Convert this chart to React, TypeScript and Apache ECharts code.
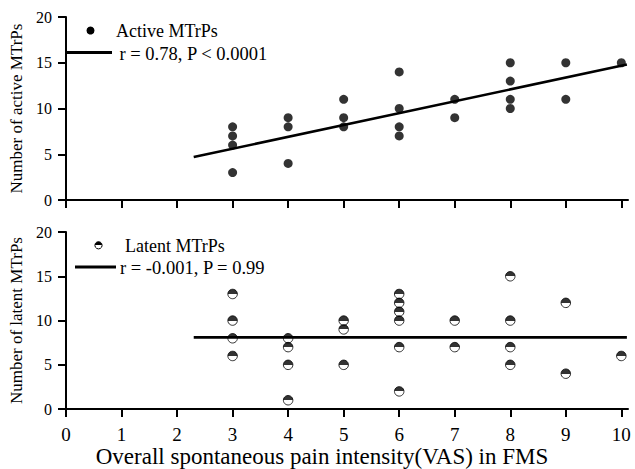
import React, { useEffect, useRef } from "react";
import * as echarts from "echarts";

const xTicks = [0, 1, 2, 3, 4, 5, 6, 7, 8, 9, 10];
const activeX = [3, 3, 3, 3, 4, 4, 4, 5, 5, 5, 6, 6, 6, 6, 7, 7, 8, 8, 8, 8, 9, 9, 10];
const activeY = [8, 7, 6, 3, 9, 8, 4, 11, 9, 8, 14, 10, 8, 7, 11, 9, 15, 13, 11, 10, 15, 11, 15];
const latentX = [3, 3, 3, 3, 4, 4, 4, 4, 5, 5, 5, 6, 6, 6, 6, 6, 6, 7, 7, 8, 8, 8, 8, 9, 9, 10];
const latentY = [13, 10, 8, 6, 8, 7, 5, 1, 10, 9, 5, 13, 12, 11, 10, 7, 2, 10, 7, 15, 10, 7, 5, 12, 4, 6];
const activeFitX = [2.3, 10.1];
const activeFitY = [4.7, 14.8];
const latentFitX = [2.3, 10.1];
const latentFitY = [8.1, 8.1];

const activeLabel = "Active MTrPs";
const activeStat = "r = 0.78, P < 0.0001";
const latentLabel = "Latent MTrPs";
const latentStat = "r = -0.001, P = 0.99";
const xTitle = "Overall spontaneous pain intensity(VAS) in FMS";
const yTitleTop = "Number of active MTrPs";
const yTitleBottom = "Number of latent MTrPs";

const FONT = "Liberation Serif";

const halfFill = {
  type: "linear",
  x: 0,
  y: 0,
  x2: 0,
  y2: 1,
  colorStops: [
    { offset: 0, color: "#000" },
    { offset: 0.5, color: "#000" },
    { offset: 0.5, color: "#fff" },
    { offset: 1, color: "#fff" },
  ],
};

const zip = (xs: number[], ys: number[]) => xs.map((x, i) => [x, ys[i]]);

export default function App() {
  const ref = useRef<HTMLDivElement>(null);
  useEffect(() => {
    if (!ref.current) return;
    const chart = echarts.init(ref.current, undefined, { renderer: "svg" });
    const xAxisBase = (gridIndex: number, showLabel: boolean) => ({
      type: "value",
      gridIndex,
      min: 0,
      max: 10.12,
      splitLine: { show: false },
      axisLine: { show: true, onZero: false, lineStyle: { color: "#000", width: 2 } },
      axisTick: { show: true, inside: false, length: 8, lineStyle: { color: "#000", width: 2 }, customValues: xTicks },
      axisLabel: {
        show: showLabel,
        customValues: xTicks,
        color: "#000",
        fontFamily: FONT,
        fontSize: 19,
        margin: 16,
      },
      name: showLabel ? xTitle : "",
      nameLocation: "middle",
      nameGap: 32,
      nameTextStyle: { color: "#000", fontFamily: FONT, fontSize: 23, padding: [0, 50, 0, 0] },
    });
    const yAxisBase = (gridIndex: number, title: string) => ({
      type: "value",
      gridIndex,
      min: 0,
      max: 20,
      interval: 5,
      splitLine: { show: false },
      axisLine: { show: true, onZero: false, lineStyle: { color: "#000", width: 2 } },
      axisTick: { show: true, inside: false, length: 8, lineStyle: { color: "#000", width: 2 } },
      axisLabel: { color: "#000", fontFamily: FONT, fontSize: 16, margin: 14 },
      name: title,
      nameLocation: "middle",
      nameGap: 36,
      nameTextStyle: { color: "#000", fontFamily: FONT, fontSize: 17 },
    });
    chart.setOption({
      animation: false,
      backgroundColor: "#fff",
      grid: [
        { left: 66, right: 7, top: 17, height: 183 },
        { left: 66, right: 7, top: 232, height: 183 },
      ],
      xAxis: [xAxisBase(0, false), xAxisBase(1, true)],
      yAxis: [yAxisBase(0, yTitleTop), yAxisBase(1, yTitleBottom)],
      series: [
        {
          type: "scatter",
          name: activeLabel,
          xAxisIndex: 0,
          yAxisIndex: 0,
          data: zip(activeX, activeY),
          symbol: "circle",
          symbolSize: 9,
          itemStyle: { color: "#000" },
        },
        {
          type: "line",
          name: activeStat,
          xAxisIndex: 0,
          yAxisIndex: 0,
          data: zip(activeFitX, activeFitY),
          symbol: "none",
          clip: false,
          lineStyle: { color: "#000", width: 2.6 },
        },
        {
          type: "line",
          name: latentStat,
          xAxisIndex: 1,
          yAxisIndex: 1,
          data: zip(latentFitX, latentFitY),
          symbol: "none",
          clip: false,
          lineStyle: { color: "#000", width: 2.6 },
        },
        {
          type: "scatter",
          name: latentLabel,
          xAxisIndex: 1,
          yAxisIndex: 1,
          data: zip(latentX, latentY),
          symbol: "circle",
          symbolSize: 9.5,
          itemStyle: { color: halfFill, borderColor: "#000", borderWidth: 1 },
        },
      ],
      graphic: [
        { type: "circle", shape: { cx: 90.5, cy: 30.5, r: 4 }, style: { fill: "#000" } },
        {
          type: "text",
          x: 116,
          y: 30.5,
          style: { text: activeLabel, fontFamily: FONT, fontSize: 18, fill: "#000", verticalAlign: "middle" },
        },
        {
          type: "line",
          shape: { x1: 67, y1: 52.5, x2: 112, y2: 52.5 },
          style: { stroke: "#000", lineWidth: 3 },
        },
        {
          type: "text",
          x: 119.5,
          y: 54,
          style: { text: activeStat, fontFamily: FONT, fontSize: 18.5, fill: "#000", verticalAlign: "middle" },
        },
        {
          type: "circle",
          shape: { cx: 98.5, cy: 245.3, r: 3.6 },
          style: { fill: halfFill, stroke: "#000", lineWidth: 1 },
        },
        {
          type: "text",
          x: 125,
          y: 246,
          style: { text: latentLabel, fontFamily: FONT, fontSize: 18, fill: "#000", verticalAlign: "middle" },
        },
        {
          type: "line",
          shape: { x1: 75, y1: 267, x2: 116, y2: 267 },
          style: { stroke: "#000", lineWidth: 3 },
        },
        {
          type: "text",
          x: 120,
          y: 268,
          style: { text: latentStat, fontFamily: FONT, fontSize: 18.5, fill: "#000", verticalAlign: "middle" },
        },
      ],
    });
    return () => chart.dispose();
  }, []);
  return (
    <div
      ref={ref}
      style={{ position: "fixed", left: 0, top: 0, width: 635, height: 469, background: "#fff" }}
    />
  );
}
